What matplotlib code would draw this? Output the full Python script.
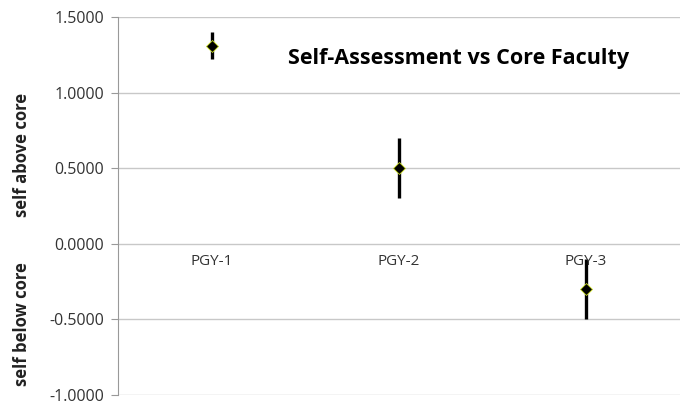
import numpy as np
import matplotlib.pyplot as plt

categories = ["PGY-1", "PGY-2", "PGY-3"]
means = [1.31, 0.50, -0.30]
errors = [0.09, 0.20, 0.20]
yticks = [-1.0, -0.5, 0.0, 0.5, 1.0, 1.5]

plt.rcParams['font.family'] = ['Open Sans', 'DejaVu Sans']

fig = plt.figure(figsize=(6.81, 4.09), dpi=100)
ax = fig.add_axes([118 / 681, 1 - 395 / 409, 1 - 118 / 681 - 0.002, (395 - 17) / 409])

x = np.arange(len(categories))
ax.set_xlim(-0.5, len(categories) - 0.5)
ax.set_ylim(-1.0, 1.5)

for yv in yticks:
    ax.axhline(yv, color='#c8c8c8', lw=1.0, zorder=0)

ax.errorbar(x, means, yerr=errors, fmt='none', ecolor='black', elinewidth=2.4, capsize=0, zorder=2)
ax.plot(x, means, linestyle='none', marker='D', markersize=6.5, markerfacecolor='black',
        markeredgecolor='#c8dc20', markeredgewidth=0.6, zorder=3)

ax.set_yticks(yticks)
ax.set_yticklabels(["%.4f" % v for v in yticks], fontsize=11.5, color='#333333')
ax.tick_params(axis='y', length=5, color='#999999', pad=5)
ax.set_xticks([])
for s in ['top', 'right', 'bottom']:
    ax.spines[s].set_visible(False)
ax.spines['left'].set_color('#999999')

for xi, c in zip(x, categories):
    ax.text(xi, -0.115, c, ha='center', va='center', fontsize=11, color='#333333')

ax.text(0.606, 0.889, "Self-Assessment vs Core Faculty", transform=ax.transAxes,
        ha='center', va='center', fontsize=15.5, fontweight='bold', color='black')

fig.text(22 / 681, 1 - 155 / 409, "self above core", rotation=90, ha='center', va='center',
         fontsize=12, fontweight='bold', color='#222222')
fig.text(22 / 681, 1 - 324 / 409, "self below core", rotation=90, ha='center', va='center',
         fontsize=12, fontweight='bold', color='#222222')

fig.savefig("out.png", dpi=100)
